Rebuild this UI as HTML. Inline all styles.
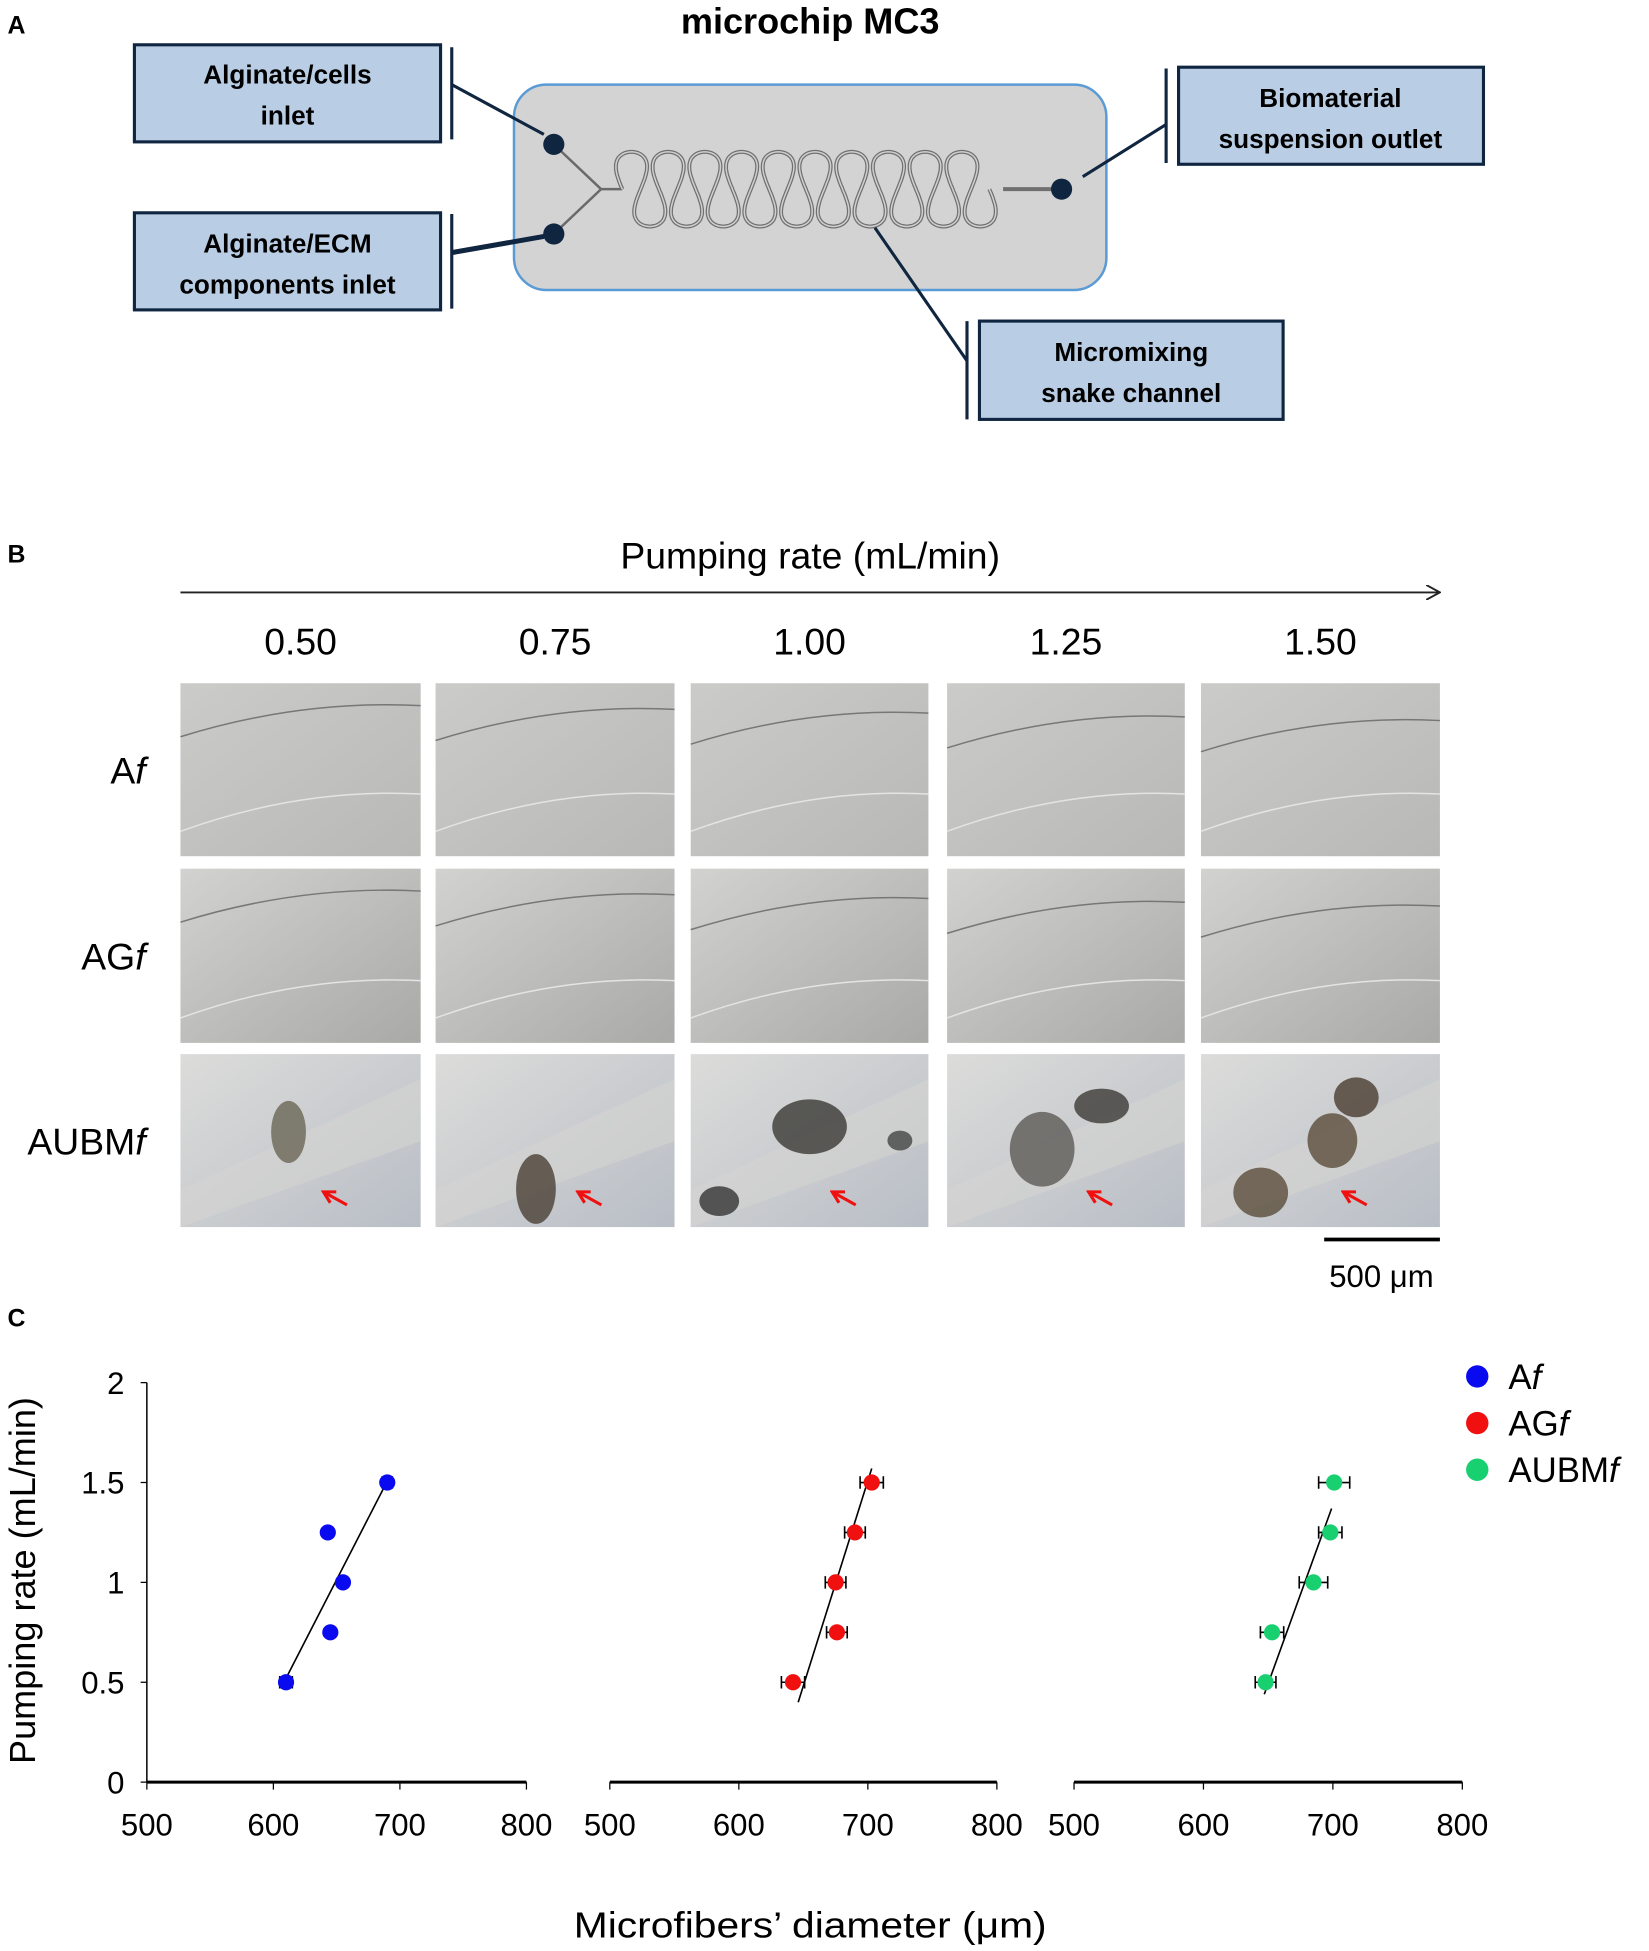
<!DOCTYPE html>
<html><head><meta charset="utf-8"><style>
html,body{margin:0;padding:0;background:#fff}
svg{display:block}
text{font-family:"Liberation Sans",sans-serif}
.cal{font-family:"Liberation Sans Narrow","Liberation Sans",sans-serif;font-weight:bold}
</style></head><body>
<svg id="fig" xmlns="http://www.w3.org/2000/svg" width="1649" height="1951" viewBox="0 0 1325 1567.7" preserveAspectRatio="none">
<defs>
<linearGradient id="g1" x1="0" y1="0" x2="1" y2="1"><stop offset="0" stop-color="#cbcbc9"/><stop offset="1" stop-color="#b8b8b6"/></linearGradient>
<linearGradient id="g2" x1="0" y1="0" x2="1" y2="1"><stop offset="0" stop-color="#d2d2d0"/><stop offset="1" stop-color="#a9a9a7"/></linearGradient>
<linearGradient id="g3" x1="0" y1="0" x2="1" y2="1"><stop offset="0" stop-color="#dcdcda"/><stop offset="1" stop-color="#b9bec6"/></linearGradient>
<marker id="ah" markerWidth="12" markerHeight="12" refX="10" refY="6" orient="auto" markerUnits="userSpaceOnUse"><path d="M0,0 L11,6 L0,12" fill="none" stroke="#222" stroke-width="1.5"/></marker>
<marker id="ra" markerWidth="12" markerHeight="12" refX="9" refY="6" orient="auto" markerUnits="userSpaceOnUse"><path d="M1,1 L10,6 L1,11" fill="none" stroke="#f01010" stroke-width="2.5"/></marker>
</defs>

<g>
<text x="6" y="27" font-size="20" font-weight="bold">A</text>
<text x="651" y="27" font-size="29" font-weight="bold" text-anchor="middle">microchip MC3</text>
<rect x="413" y="68" width="476" height="165" rx="26" fill="#d3d3d3" stroke="#5b9bd5" stroke-width="2"/>
<path d="M445,116 L483,152 L445,188 M483,152 L500,152" fill="none" stroke="#6a6a6a" stroke-width="2"/>
<path id="snake-outer" fill="none" stroke="#707070" stroke-width="3.2"/>
<path id="snake-inner" fill="none" stroke="#d0d0d0" stroke-width="1.2"/>
<path d="M806,152 L853,152" stroke="#707070" stroke-width="3.2"/>
<circle cx="445" cy="116" r="8.5" fill="#0f2540"/>
<circle cx="445" cy="188" r="8.5" fill="#0f2540"/>
<circle cx="853" cy="152" r="8.5" fill="#0f2540"/>
<g stroke="#0f2540" stroke-width="2.5" fill="none">
<path d="M363,68 L437,108"/><path d="M363,203 L437,190" stroke-width="4"/><path d="M870,142 L937,100"/><path d="M703,183 L777,290"/>
<path d="M363,38 V112 M363,172 V248 M937,55 V131 M777,258 V337"/>
</g>
<g>
<rect x="108" y="36" width="246" height="78" fill="#b9cde4" stroke="#0f2540" stroke-width="2.5"/>
<text class="cal" x="231" y="67" font-size="21" text-anchor="middle">Alginate/cells</text>
<text class="cal" x="231" y="100" font-size="21" text-anchor="middle">inlet</text></g>
<g>
<rect x="108" y="171" width="246" height="78" fill="#b9cde4" stroke="#0f2540" stroke-width="2.5"/>
<text class="cal" x="231" y="203" font-size="21" text-anchor="middle">Alginate/ECM</text>
<text class="cal" x="231" y="236" font-size="21" text-anchor="middle">components inlet</text></g>
<g>
<rect x="947" y="54" width="245" height="78" fill="#b9cde4" stroke="#0f2540" stroke-width="2.5"/>
<text class="cal" x="1069" y="86" font-size="21" text-anchor="middle">Biomaterial</text>
<text class="cal" x="1069" y="119" font-size="21" text-anchor="middle">suspension outlet</text></g>
<g>
<rect x="787" y="258" width="244" height="79" fill="#b9cde4" stroke="#0f2540" stroke-width="2.5"/>
<text class="cal" x="909" y="290" font-size="21" text-anchor="middle">Micromixing</text>
<text class="cal" x="909" y="323" font-size="21" text-anchor="middle">snake channel</text></g>
</g>

<g>
<text x="6" y="452" font-size="20" font-weight="bold">B</text>
<text x="651" y="457" font-size="30" text-anchor="middle">Pumping rate (mL/min)</text>
<line x1="145" y1="476" x2="1156" y2="476" stroke="#222" stroke-width="1.5" marker-end="url(#ah)"/>
<g id="micro"></g>
<line x1="1064" y1="996" x2="1157" y2="996" stroke="#000" stroke-width="3"/>
<text x="1110" y="1034" font-size="25" text-anchor="middle">500 μm</text>
</g>

<g>
<text x="6" y="1066" font-size="20" font-weight="bold">C</text>
<g id="chart"></g>
<text transform="translate(28,1270) rotate(-90)" font-size="29" text-anchor="middle">Pumping rate (mL/min)</text>
<text x="651" y="1557" font-size="29" text-anchor="middle" textLength="380" lengthAdjust="spacingAndGlyphs">Microfibers’ diameter (μm)</text>
</g>
</svg>
<script>
// ---- chart data ----
const rates = [0.5, 0.75, 1.0, 1.25, 1.5];
const seriesNames = ["Af", "AGf", "AUBMf"];
const afDiam = [610, 645, 655, 643, 690];
const agfDiam = [642, 676, 675, 690, 703];
const aubmfDiam = [648, 653, 685, 698, 701];
const afErr = [5, 3, 3, 3, 4];
const agfErr = [9, 8, 8, 8, 9];
const aubmfErr = [8, 9, 11, 9, 12];
const fitLowDiam = [610, 646, 647];
const fitLowRate = [0.52, 0.40, 0.44];
const fitHighDiam = [687, 703, 699];
const fitHighRate = [1.47, 1.57, 1.37];
const xTicks = [500, 600, 700, 800];
const yTicks = [0, 0.5, 1, 1.5, 2];
const yTickLabels = ["0", "0.5", "1", "1.5", "2"];
const colors = ["#0a0af0", "#f01010", "#18d070"];

const NS = "http://www.w3.org/2000/svg";
function mk(tag, attrs, parent) { const e = document.createElementNS(NS, tag); for (const k in attrs) e.setAttribute(k, attrs[k]); parent.appendChild(e); return e; }

(function () {
  let d = "";
  const N = 20, x0 = 500, p = 295 / N, q = 8.5, A = 30;
  for (let i = 0; i <= N * 60; i++) {
    const t = i / 60;
    const x = x0 + p * t - q * Math.sin(2 * Math.PI * t);
    const y = 152 - A * Math.sin(Math.PI * t);
    d += (i ? "L" : "M") + x.toFixed(1) + "," + y.toFixed(1);
  }
  document.getElementById("snake-outer").setAttribute("d", d);
  document.getElementById("snake-inner").setAttribute("d", d);
})();

(function () {
  const g = document.getElementById("micro");
  const cols = [[145, 338], [350, 542], [555, 746], [761, 952], [965, 1157]];
  const colLabels = ["0.50", "0.75", "1.00", "1.25", "1.50"];
  const rows = [[549, 688], [698, 838], [847, 986]];
  const rowLabels = [["A", "f"], ["AG", "f"], ["AUBM", "f"]];
  const blobs = [
    [[0.45, 0.45, 14, 25, "#6a6656"]],
    [[0.42, 0.78, 16, 28, "#4a4034"]],
    [[0.5, 0.42, 30, 22, "#3a3834"], [0.12, 0.85, 16, 12, "#333"], [0.88, 0.5, 10, 8, "#444"]],
    [[0.4, 0.55, 26, 30, "#5c5a56"], [0.65, 0.3, 22, 14, "#3c3a36"]],
    [[0.25, 0.8, 22, 20, "#5a4c3a"], [0.55, 0.5, 20, 22, "#5a4c3a"], [0.65, 0.25, 18, 16, "#4a3c30"]]
  ];
  cols.forEach((c, i) => {
    const t = mk("text", { x: (c[0] + c[1]) / 2, y: 526, "font-size": 30, "text-anchor": "middle" }, g);
    
    
    t.textContent = colLabels[i];
  });
  rows.forEach((r, j) => {
    const t = mk("text", { x: 117, y: (r[0] + r[1]) / 2 + 11, "font-size": 30, "text-anchor": "end" }, g);
    
    
    t.textContent = rowLabels[j][0];
    const ts = mk("tspan", { "font-style": "italic" }, t); ts.textContent = rowLabels[j][1];
    cols.forEach((c, i) => {
      const w = c[1] - c[0], h = r[1] - r[0];
      const cell = mk("g", {}, g);
      
      
      mk("rect", { x: c[0], y: r[0], width: w, height: h, fill: j === 2 ? "url(#g3)" : (j === 1 ? "url(#g2)" : "url(#g1)") }, cell);
      if (j < 2) {
        const y1 = r[0] + 18 + i * 3, y2 = r[1] - 20;
        mk("path", { d: `M${c[0]},${y1 + 25} Q${c[0] + w / 2},${y1 - 5} ${c[1]},${y1}`, fill: "none", stroke: "#777", "stroke-width": 1.2 }, cell);
        mk("path", { d: `M${c[0]},${y2} Q${c[0] + w / 2},${y2 - 35} ${c[1]},${y2 - 30}`, fill: "none", stroke: "#e4e4e4", "stroke-width": 1.2 }, cell);
      } else {
        mk("path", { d: `M${c[0]},${r[1] - 30} L${c[1]},${r[0] + 20} L${c[1]},${r[0] + 70} L${c[0]},${r[1]}Z`, fill: "#d4d4d0", opacity: 0.6 }, cell);
        blobs[i].forEach(b => {
          mk("ellipse", { cx: c[0] + w * b[0], cy: r[0] + h * b[1], rx: b[2], ry: b[3], fill: b[4], opacity: 0.8 }, cell);
        });
        mk("path", { d: `M${c[0] + w * 0.6 + 18},${r[0] + h * 0.8 + 10} L${c[0] + w * 0.6},${r[0] + h * 0.8}`, stroke: "#f01010", "stroke-width": 2.5, "marker-end": "url(#ra)" }, cell);
      }
    });
  });
})();

(function () {
  const g = document.getElementById("chart");
  const panels = [[118, 423], [490, 801], [863, 1175]];
  const yTop = 1111, yBot = 1432;
  const yScale = v => yBot - (v - 0) / (2 - 0) * (yBot - yTop);
  const xScale = (k, v) => panels[k][0] + (v - 500) / 300 * (panels[k][1] - panels[k][0]);
  const diams = [afDiam, agfDiam, aubmfDiam];
  const errs = [afErr, agfErr, aubmfErr];
  const ya = mk("line", { x1: 118, y1: yTop, x2: 118, y2: yBot, stroke: "#000", "stroke-width": 1.2 }, g);
  
  
  yTicks.forEach((v, i) => {
    mk("line", { x1: 113, x2: 118, y1: yScale(v), y2: yScale(v), stroke: "#000" }, g);
    const t = mk("text", { x: 100, y: yScale(v) + 9, "font-size": 25, "text-anchor": "end" }, g);
    
    
    t.textContent = yTickLabels[i];
  });
  panels.forEach((p, k) => {
    const xa = mk("line", { x1: p[0], x2: p[1], y1: yBot, y2: yBot, stroke: "#000", "stroke-width": 2.5 }, g);
    
    
    xTicks.forEach(v => {
      mk("line", { x1: xScale(k, v), x2: xScale(k, v), y1: yBot, y2: yBot + 6, stroke: "#000" }, g);
      const t = mk("text", { x: xScale(k, v), y: yBot + 43, "font-size": 25, "text-anchor": "middle" }, g);
      
      
      t.textContent = v;
    });
    const fl = mk("line", { x1: xScale(k, fitLowDiam[k]), y1: yScale(fitLowRate[k]), x2: xScale(k, fitHighDiam[k]), y2: yScale(fitHighRate[k]), stroke: "#000", "stroke-width": 1.3 }, g);
    
    
    rates.forEach((r, i) => {
      const cx = xScale(k, diams[k][i]), cy = yScale(r);
      const e = errs[k][i];
      const x1 = xScale(k, diams[k][i] - e), x2 = xScale(k, diams[k][i] + e);
      const eb = mk("path", { d: `M${x1},${cy} H${x2} M${x1},${cy - 5} V${cy + 5} M${x2},${cy - 5} V${cy + 5}`, stroke: "#000", "stroke-width": 1.3, fill: "none" }, g);
      
      
      const c = mk("circle", { cx: cx, cy: cy, r: 6.5, fill: colors[k] }, g);
      
      
    });
    const ly = 1106 + k * 37.5;
    const lc = mk("circle", { cx: 1187, cy: ly, r: 9, fill: colors[k] }, g);
    
    
    const nm = seriesNames[k];
    const lt = mk("text", { x: 1212, y: ly + 10, "font-size": 28 }, g);
    
    
    lt.textContent = nm.slice(0, -1);
    const ts = mk("tspan", { "font-style": "italic" }, lt); ts.textContent = "f";
  });
})();
</script>
</body></html>
